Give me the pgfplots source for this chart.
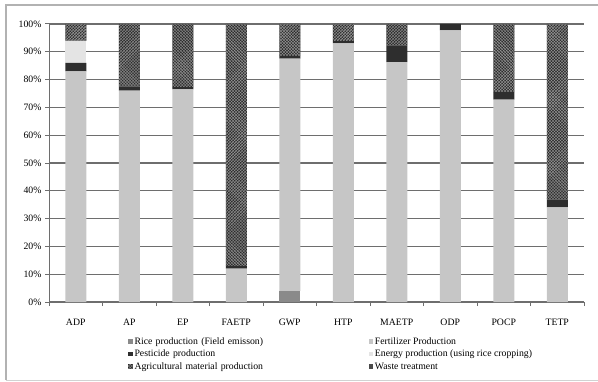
\documentclass[border=0pt]{standalone}
\usepackage{pgfplots}
\pgfplotsset{compat=1.18}
\usepackage{fontspec}
\setmainfont{Liberation Serif}
\usetikzlibrary{patterns}
\definecolor{gridc}{HTML}{6E6E6E}
\definecolor{fert}{HTML}{C6C6C6}
\definecolor{rice}{HTML}{8A8A8A}
\definecolor{pest}{HTML}{2E2E2E}
\definecolor{energy}{HTML}{E4E4E4}
\definecolor{agri}{HTML}{2A2A2A}
\definecolor{waste}{HTML}{4A4A4A}
\pgfplotstableread{
x rice fert pest energy agri waste
0 0   83   3   8   6    0
1 0   76   1.5 0   22.5 0
2 0   76.5 0.8 0   22.7 0
3 0   12   1   0   87   0
4 4   83.5 1   0   11.5 0
5 0   93   0.8 0   6.2  0
6 0   86.3 6   0   7.7  0
7 0   97.7 2.3 0   0    0
8 0   72.8 2.7 0   24.5 0
9 0   34   2.8 0   63.2 0
}\data
\begin{document}
\begin{tikzpicture}[x=1bp,y=1bp]
\useasboundingbox (0,0) rectangle (598,381);
\draw[gray!60, line width=1.2bp] (6,1) -- (6,376) -- (598,376);
\draw[gray!35, line width=1bp] (6,1) -- (598,1);
\begin{axis}[
  at={(49bp,79bp)}, anchor=south west,
  scale only axis, width=535bp, height=278bp,
  ybar stacked, bar width=21bp,
  xmin=-0.5, xmax=9.5, ymin=0, ymax=100,
  xtick=data,
  xticklabels={ADP,AP,EP,FAETP,GWP,HTP,MAETP,ODP,POCP,TETP},
  minor xtick={-0.5,0.5,...,9.5},
  major x tick style={draw=none},
  minor x tick style={gridc, line width=1bp},
  minor tick length=4bp,
  ytick={0,10,...,100},
  yticklabel={\pgfmathprintnumber{\tick}\%},
  /pgf/number format/assume math mode=true,
  tick align=outside,
  major tick length=4bp,
  ytick style={gridc, line width=1bp},
  ymajorgrids, grid style={gridc, line width=1.2bp},
  axis x line*=bottom, axis y line*=left,
  axis line style={gridc, line width=1bp},
  tick label style={font=\fontsize{9.8}{11}\selectfont},
  xticklabel style={yshift=-10bp},
  legend columns=2,
  legend style={at={(rel axis cs:0.142,-0.112)}, anchor=north west, draw=none,
    fill=none, font=\fontsize{9.8}{10.5}\selectfont, row sep=0.3bp,
    /tikz/every even column/.append style={column sep=0bp}},
  legend cell align=left,
  legend image code/.code={\fill[#1] (0bp,-2.2bp) rectangle (4.4bp,2.2bp);},
  every axis plot/.append style={draw=none},
]
\addplot+[fill=rice] table[x=x,y=rice]{\data};
\addlegendentry[text width=232bp]{Rice production (Field emisson)}
\addplot+[fill=fert] table[x=x,y=fert]{\data};
\addlegendentry{Fertilizer Production}
\addplot+[fill=pest] table[x=x,y=pest]{\data};
\addlegendentry[text width=232bp]{Pesticide production}
\addplot+[fill=energy] table[x=x,y=energy]{\data};
\addlegendentry{Energy production (using rice cropping)}
\addplot+[fill=agri, postaction={pattern=crosshatch, pattern color=gray!85}] table[x=x,y=agri]{\data};
\addlegendentry[text width=232bp]{Agricultural material production}
\addplot+[fill=waste] table[x=x,y=waste]{\data};
\addlegendentry{Waste treatment}
\end{axis}
\end{tikzpicture}
\end{document}
